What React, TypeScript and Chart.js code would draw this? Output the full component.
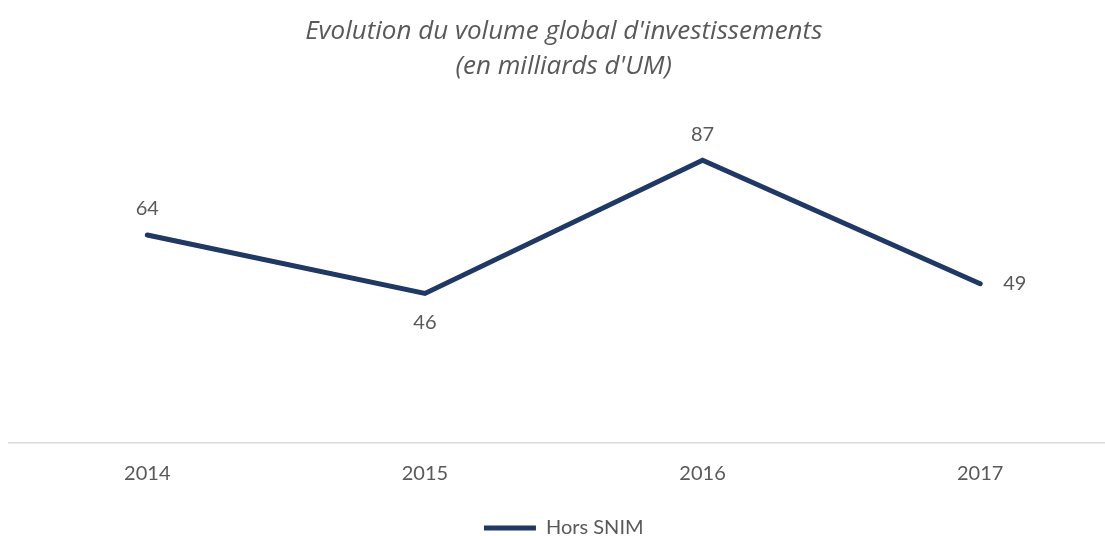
import React, { useEffect, useRef } from "react";
import { Chart, registerables } from "chart.js";

Chart.register(...registerables);

const categories = ["2014", "2015", "2016", "2017"];
const horsSnim = [64, 46, 87, 49];
const seriesLabel = "Hors SNIM";
const titleLines = ["Evolution du volume global d'investissements", "(en milliards d'UM)"];
const labelPositions = ["top", "bottom", "top", "right"];

const FONT = "Lato, 'Open Sans', sans-serif";
const TITLE_FONT = "'Open Sans', Lato, sans-serif";
const TEXT = "#595959";
const NAVY = "#203864";

const valueLabels = {
  id: "valueLabels",
  afterDatasetsDraw(chart: any) {
    const ctx = chart.ctx;
    const meta = chart.getDatasetMeta(0);
    const data = chart.data.datasets[0].data;
    ctx.save();
    ctx.font = `20px ${FONT}`;
    ctx.fillStyle = TEXT;
    ctx.textBaseline = "middle";
    meta.data.forEach((pt: any, i: number) => {
      const pos = labelPositions[i];
      let x = pt.x;
      let y = pt.y;
      ctx.textAlign = "center";
      if (pos === "top") y -= 26;
      else if (pos === "bottom") y += 29;
      else if (pos === "right") {
        x += 23;
        ctx.textAlign = "left";
      }
      ctx.fillText(String(data[i]), x, y);
    });
    ctx.restore();
  },
};

export default function App() {
  const ref = useRef<HTMLCanvasElement | null>(null);

  useEffect(() => {
    document.body.style.overflow = "hidden";
    const chart = new Chart(ref.current as HTMLCanvasElement, {
      type: "line",
      data: {
        labels: categories,
        datasets: [
          {
            label: seriesLabel,
            data: horsSnim,
            borderColor: NAVY,
            backgroundColor: NAVY,
            borderWidth: 5,
            borderCapStyle: "round",
            borderJoinStyle: "miter",
            pointRadius: 0,
            pointHoverRadius: 0,
            tension: 0,
          },
        ],
      },
      options: {
        animation: false,
        responsive: true,
        maintainAspectRatio: false,
        layout: { padding: { left: 22.5, right: 0, top: 0, bottom: 0 } },
        plugins: {
          title: {
            display: true,
            text: titleLines,
            color: TEXT,
            font: { family: TITLE_FONT, size: 26, style: "italic", weight: "normal", lineHeight: "35px" },
            padding: { top: 14, bottom: 34 },
          },
          legend: {
            display: true,
            position: "bottom",
            labels: {
              usePointStyle: true,
              pointStyle: "line",
              pointStyleWidth: 52,
              color: TEXT,
              font: { family: FONT, size: 20 },
              padding: 13,
            },
          },
          tooltip: { enabled: false },
        },
        scales: {
          y: { display: false, min: 0, max: 100 },
          x: {
            offset: true,
            grid: { display: false, drawTicks: false },
            border: { display: true, color: "#d9d9d9", width: 1.5 },
            ticks: { color: TEXT, font: { family: FONT, size: 20 }, padding: 19 },
          },
        },
      },
      plugins: [valueLabels],
    });
    return () => chart.destroy();
  }, []);

  return (
    <div style={{ position: "fixed", left: -14, top: 0, width: 1133, height: 548 }}>
      <canvas ref={ref} />
    </div>
  );
}
